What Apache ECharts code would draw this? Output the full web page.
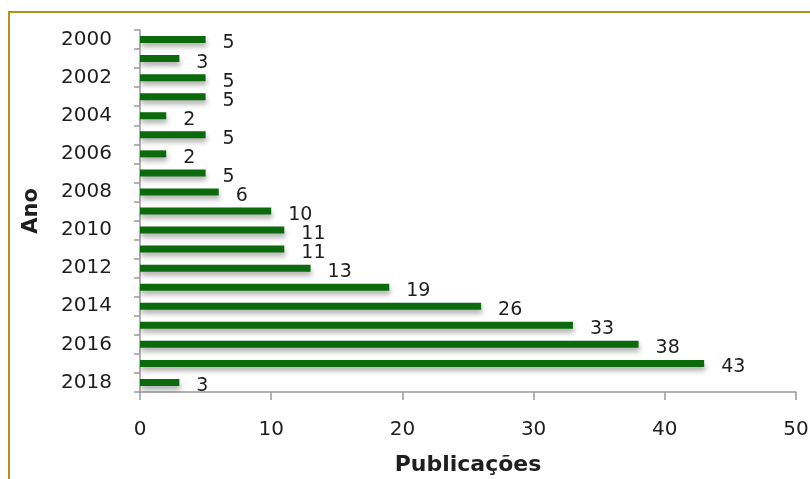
<!DOCTYPE html>
<html>
<head>
<meta charset="utf-8">
<script src="https://cdn.jsdelivr.net/npm/echarts@6/dist/echarts.min.js"></script>
<style>
  html, body { margin: 0; padding: 0; background: #fff; }
  #chart { width: 810px; height: 479px; }
</style>
</head>
<body>
<div id="chart"></div>
<script>
// Publications per year
const years = ['2000','2001','2002','2003','2004','2005','2006','2007','2008','2009',
               '2010','2011','2012','2013','2014','2015','2016','2017','2018'];
const publications = [5, 3, 5, 5, 2, 5, 2, 5, 6, 10, 11, 11, 13, 19, 26, 33, 38, 43, 3];
const xTicks = { min: 0, max: 50, interval: 10 };

const textColor = '#1e1e1e';
const axisColor = '#9a9a9a';
const font = 'DejaVu Sans';

const chart = echarts.init(document.getElementById('chart'), null, { renderer: 'canvas' });

chart.setOption({
  animation: false,
  backgroundColor: '#fff',
  graphic: [{
    type: 'rect',
    shape: { x: 9, y: 12, width: 900, height: 600 },
    style: { fill: 'none', stroke: '#b8901e', lineWidth: 2 },
    silent: true
  }],
  grid: { left: 140, right: 14, top: 30, bottom: 87, containLabel: false, outerBoundsMode: 'none' },
  xAxis: {
    type: 'value',
    min: xTicks.min, max: xTicks.max, interval: xTicks.interval,
    name: 'Publicações',
    nameLocation: 'middle',
    nameGap: 62,
    nameTextStyle: { fontFamily: font, fontSize: 22, fontWeight: 'bold', color: textColor },
    axisLine: { show: true, lineStyle: { color: axisColor, width: 1.5 } },
    axisTick: { show: true, length: 8, lineStyle: { color: axisColor, width: 1.5 } },
    axisLabel: { fontFamily: font, fontSize: 20, color: textColor, margin: 28 },
    splitLine: { show: false }
  },
  yAxis: {
    type: 'category',
    data: years,
    inverse: true,
    name: 'Ano',
    nameLocation: 'middle',
    nameGap: 98,
    nameRotate: 90,
    nameTextStyle: { fontFamily: font, fontSize: 21, fontWeight: 'bold', color: textColor },
    axisLine: { show: true, lineStyle: { color: axisColor, width: 1.5 } },
    axisTick: { show: true, interval: 0, length: 6, alignWithLabel: false, lineStyle: { color: axisColor, width: 1.5 } },
    axisLabel: { interval: 1, fontFamily: font, fontSize: 20, color: textColor, margin: 28, padding: [3, 0, 0, 0] }
  },
  series: [{
    type: 'bar',
    data: publications,
    barWidth: 7,
    itemStyle: {
      color: '#0b6a0b',
      shadowColor: 'rgba(0,0,0,0.3)',
      shadowBlur: 5,
      shadowOffsetX: 1,
      shadowOffsetY: 4
    },
    label: {
      show: true,
      position: 'right',
      distance: 17,
      offset: [0, 4],
      fontFamily: font,
      fontSize: 19,
      color: textColor
    }
  }]
});
</script>
</body>
</html>
